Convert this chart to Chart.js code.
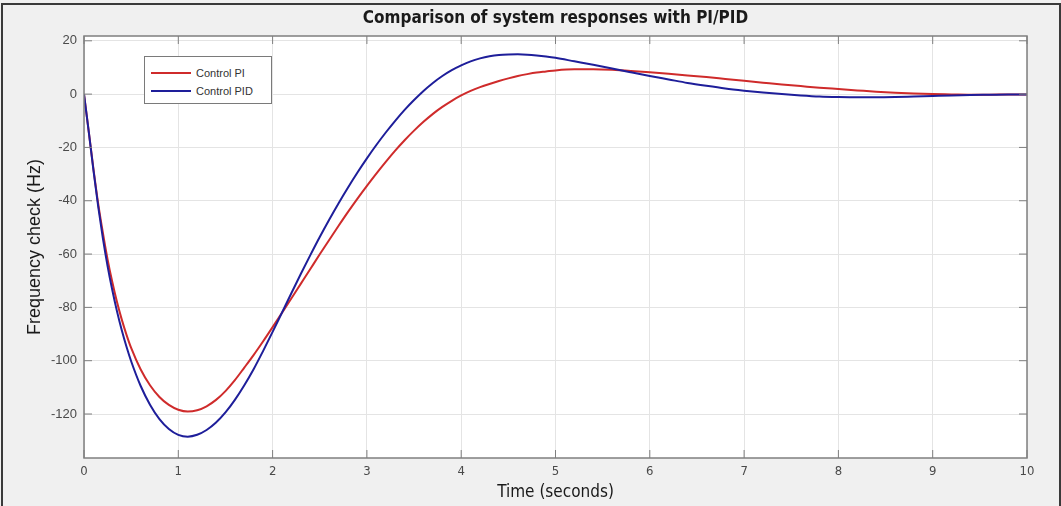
<!DOCTYPE html>
<html>
<head>
<meta charset="utf-8">
<script src="https://cdn.jsdelivr.net/npm/chart.js@4.4.0/dist/chart.umd.min.js"></script>
<style>
  html, body { margin: 0; padding: 0; background: #f0f0f0; }
  #wrap { position: relative; width: 1061px; height: 506px; overflow: hidden; }
  #frame { position: absolute; left: 1px; top: 3px; width: 1056px; height: 520px;
           border: 2px solid #3a3a3a; pointer-events: none; }
  #legend { position: absolute; left: 144px; top: 56px; width: 126px; height: 46px;
            background: #fff; border: 1px solid #7a7a7a;
            font: 11px "Liberation Sans", Arial, sans-serif; color: #333; }
  .row { position: absolute; left: 6px; height: 14px; display: flex; align-items: center; }
  .row span.ln { display: inline-block; width: 40px; height: 2px; margin-right: 5px; }
</style>
</head>
<body>
<div id="wrap">
  <canvas id="c" width="1061" height="506"></canvas>
  <div id="legend"></div>
  <div id="frame"></div>
</div>
<script>
// 時間軸 (s)
const times = [0, 0.05, 0.1, 0.15, 0.2, 0.25, 0.3, 0.35, 0.4, 0.45, 0.5, 0.6, 0.7, 0.8, 0.9, 1.0,
  1.1, 1.2, 1.3, 1.4, 1.5, 1.6, 1.7, 1.8, 1.9, 2.0, 2.1, 2.2, 2.3, 2.4, 2.5, 2.6, 2.7, 2.8, 2.9,
  3.0, 3.1, 3.2, 3.3, 3.4, 3.5, 3.6, 3.7, 3.8, 3.9, 4.0, 4.1, 4.2, 4.3, 4.4, 4.5, 4.6, 4.7, 4.8, 4.9,
  5.0, 5.2, 5.4, 5.6, 5.8, 6.0, 6.2, 6.4, 6.6, 6.8, 7.0, 7.2, 7.4, 7.6, 7.8, 8.0, 8.2, 8.4, 8.6,
  8.8, 9.0, 9.2, 9.4, 9.6, 9.8, 10];

// Control PI
const piValues = [0, -14, -28, -41, -52, -62, -70.5, -78, -84.5, -90.2, -95.2, -103.2, -109.2, -113.6, -116.6, -118.4,
  -119.1, -118.6, -117.1, -114.7, -111.4, -107.3, -102.6, -97.8, -92.7, -87.4, -82.0, -76.6, -71.1, -65.6, -60.1, -54.7, -49.4, -44.2, -39.2,
  -34.4, -29.8, -25.4, -21.2, -17.3, -13.7, -10.4, -7.4, -4.8, -2.5, -0.5, 1.2, 2.6, 3.8, 4.9, 5.9, 6.8, 7.5, 8.1, 8.5,
  8.9, 9.3, 9.3, 9.1, 8.7, 8.2, 7.6, 7.0, 6.4, 5.7, 5.0, 4.3, 3.6, 3.0, 2.4, 1.9, 1.4, 0.9, 0.5,
  0.2, 0, -0.1, -0.2, -0.2, -0.1, -0.1];

// Control PID
const pidValues = [0, -14, -28.5, -42, -54, -64.5, -73.5, -81.5, -88.5, -94.7, -100.2, -109.4, -116.5, -121.9, -125.6, -127.8,
  -128.5, -127.8, -126.0, -123.2, -119.4, -114.7, -109.2, -103.1, -96.3, -89.2, -81.9, -74.6, -67.4, -60.4, -53.6, -47.1, -40.9, -35.0, -29.4,
  -24.1, -19.1, -14.4, -10.0, -5.9, -2.2, 1.2, 4.2, 6.8, 9.0, 10.8, 12.3, 13.4, 14.2, 14.7, 14.9, 14.95, 14.8, 14.5, 14.1,
  13.6, 12.3, 11.0, 9.6, 8.2, 6.8, 5.5, 4.2, 3.1, 2.1, 1.3, 0.6, 0, -0.5, -0.9, -1.1, -1.2, -1.2, -1.1,
  -0.9, -0.7, -0.5, -0.35, -0.25, -0.15, -0.1];

const xTicks = [0, 1, 2, 3, 4, 5, 6, 7, 8, 9, 10];
const yTicks = [-120, -100, -80, -60, -40, -20, 0, 20];

const seriesNames = ['Control PI', 'Control PID'];
const seriesColors = ['#cf2b2b', '#1e1e9a'];

const toPoints = vals => times.map((t, i) => ({ x: t, y: vals[i] }));

// 枠線と内向きの目盛り
const boxPlugin = {
  id: 'box',
  afterLayout(chart) {
    // タイトルをプロット領域の中央に
    const tb = chart.titleBlock;
    if (tb) { tb.left = chart.chartArea.left; tb.right = chart.chartArea.right; tb.width = tb.right - tb.left; }
  },
  afterDatasetsDraw(chart) {
    const { ctx, chartArea: a, scales } = chart;
    ctx.save();
    ctx.strokeStyle = '#7f7f7f';
    ctx.lineWidth = 1.5;
    ctx.strokeRect(a.left, a.top, a.right - a.left, a.bottom - a.top);
    ctx.lineWidth = 1;
    ctx.beginPath();
    xTicks.forEach(v => {
      const x = scales.x.getPixelForValue(v);
      ctx.moveTo(x, a.bottom); ctx.lineTo(x, a.bottom - 8);
      ctx.moveTo(x, a.top); ctx.lineTo(x, a.top + 8);
    });
    yTicks.forEach(v => {
      const y = scales.y.getPixelForValue(v);
      ctx.moveTo(a.left, y); ctx.lineTo(a.left + 8, y);
      ctx.moveTo(a.right, y); ctx.lineTo(a.right - 8, y);
    });
    ctx.stroke();
    ctx.restore();
  }
};

const bgPlugin = {
  id: 'bg',
  beforeDraw(chart) {
    const { ctx, chartArea: a } = chart;
    ctx.save();
    ctx.fillStyle = '#ffffff';
    ctx.fillRect(a.left, a.top, a.right - a.left, a.bottom - a.top);
    ctx.restore();
  }
};

const narrow = '"Liberation Sans Narrow", "Arial Narrow", "DejaVu Sans Condensed", sans-serif';
const sans = '"Liberation Sans", Arial, sans-serif';

// PIDを先に描き、PIを上に重ねる
const order = [1, 0];

new Chart(document.getElementById('c'), {
  type: 'line',
  data: {
    datasets: order.map(idx => ({
      label: seriesNames[idx],
      data: toPoints(idx === 0 ? piValues : pidValues),
      borderColor: seriesColors[idx],
      borderWidth: 2,
      pointRadius: 0,
      cubicInterpolationMode: 'monotone',
      fill: false
    }))
  },
  options: {
    responsive: false,
    animation: false,
    layout: { padding: { left: 0, right: 34, top: 0, bottom: 0 } },
    plugins: {
      legend: { display: false },
      tooltip: { enabled: false },
      title: {
        display: true,
        text: 'Comparison of system responses with PI/PID',
        color: '#1a1a1a',
        font: { family: narrow, size: 17, weight: 'bold', lineHeight: 1.2 },
        padding: { top: 8, bottom: 7.6 }
      }
    },
    scales: {
      x: {
        type: 'linear',
        min: 0, max: 10,
        afterBuildTicks: s => { s.ticks = xTicks.map(v => ({ value: v })); },
        afterFit: s => { s.height = 48; },
        grid: { color: '#e4e4e4', drawTicks: false },
        border: { display: false },
        ticks: { color: '#4a4a4a', padding: 6, font: { family: narrow, size: 13 } },
        title: {
          display: true, text: 'Time (seconds)', color: '#1a1a1a',
          font: { family: narrow, size: 17, lineHeight: 1.2 },
          padding: { top: 0, bottom: 3 }
        }
      },
      y: {
        min: -136.5, max: 21.8,
        afterBuildTicks: s => { s.ticks = yTicks.map(v => ({ value: v })); },
        afterFit: s => { s.width = 84; },
        grid: { color: '#e4e4e4', drawTicks: false },
        border: { display: false },
        ticks: { color: '#4a4a4a', padding: 7, font: { family: sans, size: 13 } },
        title: {
          display: true, text: 'Frequency check (Hz)', color: '#1a1a1a',
          font: { family: sans, size: 18, lineHeight: 1.2 },
          padding: { top: 24, bottom: 0 }
        }
      }
    }
  },
  plugins: [bgPlugin, boxPlugin]
});

// 凡例 (HTML)
const legend = document.getElementById('legend');
seriesNames.forEach((name, i) => {
  const row = document.createElement('div');
  row.className = 'row';
  row.style.top = (9 + i * 18) + 'px';
  row.innerHTML = '<span class="ln" style="background:' + seriesColors[i] + '"></span>' + name;
  legend.appendChild(row);
});
</script>
</body>
</html>
